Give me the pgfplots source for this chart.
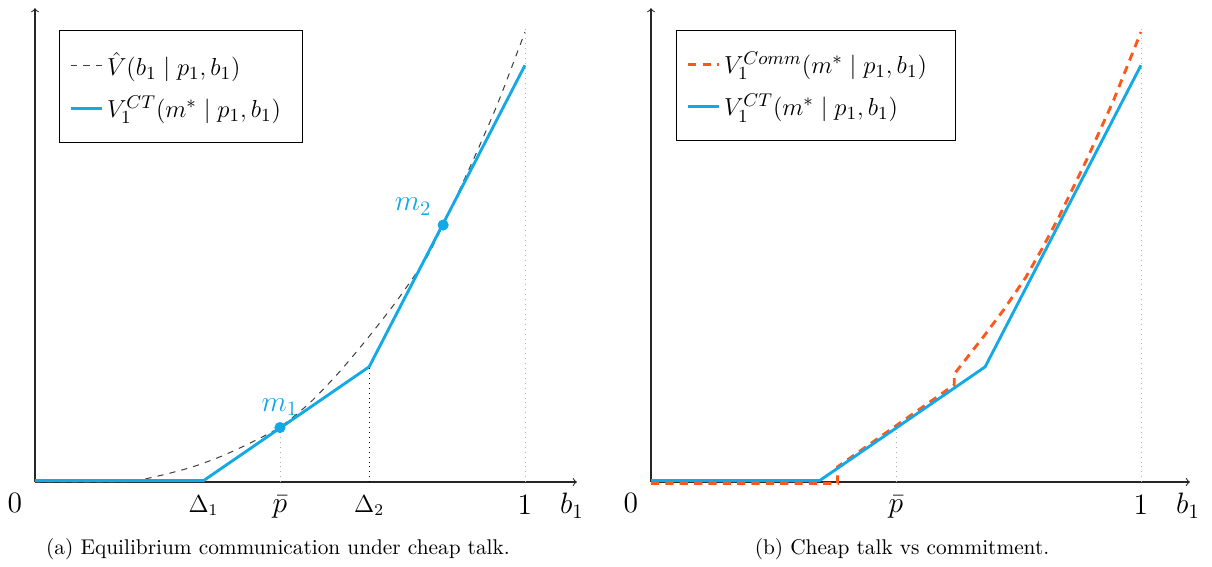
\documentclass[border=0pt]{standalone}
\usepackage{pgfplots}
\pgfplotsset{compat=1.18}
\definecolor{CTblue}{HTML}{12A9E6}
\definecolor{CommOrange}{HTML}{FF5719}

\pgfplotsset{
  panel/.style={
    x=239pt, y=219.5pt,
    xmin=0, ymin=0, ymax=1.053,
    axis lines*=left,
    axis line style={->, line width=0.5pt, black!85},
    anchor=south west,
    clip=false,
    ytick=\empty,
    major tick length=0pt,
    xticklabel style={font=\large, yshift=-3pt},
    legend cell align=left,
    legend image code/.code={%
      \draw[mark repeat=2,mark phase=2,##1] plot coordinates {(0cm,0cm)(0.26cm,0cm)(0.52cm,0cm)};},
    legend style={font=\fontsize{13}{15.5}\selectfont, draw=black, line width=0.5pt,
      anchor=north west, inner xsep=5pt, inner ysep=8.5pt, row sep=4.5pt},
  }
}

\begin{document}
\begin{tikzpicture}
\useasboundingbox (0,0) rectangle (591.22pt,-276.10pt);

% (a) cheap talk equilibrium
\begin{axis}[panel, at={(17.07pt,-235.12pt)}, xmax=1.106,
  xtick={0.344,0.5,0.682,1},
  xticklabels={$\Delta_1$,{\fontsize{13.5}{16}\selectfont$\bar{p}$},$\Delta_2$,{\Large$1$}},
  legend style={at={(0.0443,0.9536)}}]
\addplot[black!75, dashed, line width=0.5pt, smooth, tension=0.4]
  coordinates {(0,0)(0.18,0)(0.25,0.013)(0.32,0.033)(0.38,0.057)(0.44,0.087)
               (0.50,0.122)(0.56,0.175)(0.62,0.243)(0.68,0.321)(0.74,0.405)
               (0.80,0.500)(0.833,0.572)(0.89,0.705)(0.944,0.840)(1.0,1.0)};
\addlegendentry{$\hat{V}(b_1 \mid p_1, b_1)$}
\addplot[CTblue, line width=1.4pt]
  coordinates {(0,0.003)(0.344,0.003)(0.682,0.256)(1,0.926)};
\addlegendentry{$V_1^{CT}(m^* \mid p_1, b_1)$\hspace*{3.5pt}}
\addplot[gray!60, dotted, forget plot] coordinates {(0.5,0)(0.5,0.121)};
\addplot[black, dotted, forget plot] coordinates {(0.682,0)(0.682,0.256)};
\addplot[gray!60, dotted, forget plot] coordinates {(1,0)(1,1.01)};
\addplot[CTblue, only marks, mark=*, mark size=2.5pt, forget plot]
  coordinates {(0.5,0.121)(0.833,0.571)};
\node[CTblue, font=\Large] at (axis cs:0.5,0.121) [yshift=10pt] {$m_1$};
\node[CTblue, font=\Large] at (axis cs:0.833,0.571) [xshift=-14.6pt, yshift=9pt] {$m_2$};
\node[font=\Large, anchor=north] at (axis cs:0,0) [xshift=-9.8pt, yshift=-2pt] {$0$};
\node[font=\Large, anchor=north] at (axis cs:1.096,0) [yshift=-2pt] {$b_1$};
\end{axis}

% (b) cheap talk vs commitment
\begin{axis}[panel, at={(317.56pt,-235.12pt)}, xmax=1.10,
  xtick={0.5,1},
  xticklabels={{\fontsize{13.5}{16}\selectfont$\bar{p}$},{\Large$1$}},
  legend style={at={(0.0464,0.9536)}}]
\addplot[CommOrange, line width=1.4pt, dash pattern=on 4pt off 3pt]
  coordinates {(0,-0.003)(0.381,-0.003)(0.381,0.034)(0.619,0.216)(0.619,0.240)
               (0.68,0.325)(0.72,0.383)(0.765,0.455)(0.80,0.522)(0.833,0.590)
               (0.89,0.718)(0.944,0.848)(1.0,1.0)};
\addlegendentry{$V_1^{Comm}(m^* \mid p_1, b_1)$\hspace*{7pt}}
\addplot[CTblue, line width=1.4pt]
  coordinates {(0,0.003)(0.344,0.003)(0.682,0.256)(1,0.926)};
\addlegendentry{$V_1^{CT}(m^* \mid p_1, b_1)$}
\addplot[gray!60, dotted, forget plot] coordinates {(0.5,0)(0.5,0.118)};
\addplot[gray!60, dotted, forget plot] coordinates {(1,0)(1,1.01)};
\node[font=\Large, anchor=north] at (axis cs:0,0) [xshift=-9.8pt, yshift=-2pt] {$0$};
\node[font=\Large, anchor=north] at (axis cs:1.096,0) [yshift=-2pt] {$b_1$};
\end{axis}

\node[font=\fontsize{10.4}{12.5}\selectfont] at (135.6pt,-267.8pt) {(a) Equilibrium communication under cheap talk.};
\node[font=\fontsize{10.4}{12.5}\selectfont] at (440.0pt,-267.8pt) {(b) Cheap talk vs commitment.};
\end{tikzpicture}
\end{document}
